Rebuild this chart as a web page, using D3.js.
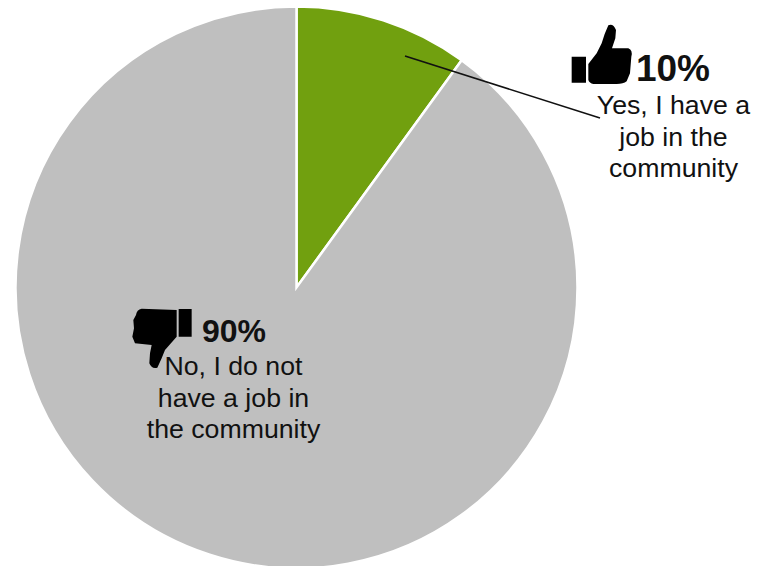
<!DOCTYPE html>
<html>
<head>
<meta charset="utf-8">
<script src="https://cdn.jsdelivr.net/npm/d3@7"></script>
<style>
html, body { margin: 0; padding: 0; background: #fff; }
svg { display: block; }
text { font-family: "Liberation Sans", Arial, sans-serif; fill: #111; text-anchor: middle; }
</style>
</head>
<body>
<div id="chart"></div>
<script>
// Answers to "do you have a job in the community?"
const categories = ["Yes", "No"];
const shares = [10, 90];
const sliceColors = ["#71a00f", "#bfbfbf"];
const percentLabels = ["10%", "90%"];
const captionLines = [
  ["Yes, I have a", "job in the", "community"],
  ["No, I do not", "have a job in", "the community"]
];

const width = 761, height = 566;
const cx = 296.5, cy = 287.5, radius = 281;

const svg = d3.select("#chart").append("svg")
  .attr("width", width).attr("height", height);

const pie = d3.pie().sort(null).value(d => d)(shares);
const arc = d3.arc().innerRadius(0).outerRadius(radius);

svg.append("g").attr("transform", `translate(${cx},${cy})`)
  .selectAll("path").data(pie).join("path")
  .attr("d", arc)
  .attr("fill", (d, i) => sliceColors[i])
  .attr("stroke", "#fff")
  .attr("stroke-width", 2.5)
  .attr("stroke-linejoin", "miter");

// Leader from the green slice to its caption
svg.append("line")
  .attr("x1", 405).attr("y1", 56).attr("x2", 600).attr("y2", 118)
  .attr("stroke", "#111").attr("stroke-width", 1.6);

// Thumb icons
const thumbUp = "M85,162 L110,130 L125,100 L134,72 L145,46 Q160,40 168,60 L166,85 L156,115 L205,115 Q219,120 214,140 L210,190 L200,214 Q190,222 170,222 L100,222 Q88,219 85,210 Z M35,140 H78 V218 H35 Z";
const thumbDown = "M170,45 L65,41 Q50,44 48,60 L40,75 L42,100 L37,125 L45,145 L95,150 L90,175 L88,205 Q95,223 112,218 L125,190 L135,165 L170,125 Z M176,42 H215 V125 H176 Z";

svg.append("path").attr("d", thumbUp).attr("fill", "#000")
  .attr("transform", "translate(560,10) scale(0.3333)");
svg.append("path").attr("d", thumbDown).attr("fill", "#000")
  .attr("transform", "translate(120,295) scale(0.3333)");

// Percent figures and captions
const percentPos = [[673, 81], [234, 342]];
const captionPos = [[673.5, 114], [233.5, 375]];

svg.selectAll("text.pct").data(percentLabels).join("text")
  .attr("class", "pct")
  .attr("x", (d, i) => percentPos[i][0])
  .attr("y", (d, i) => percentPos[i][1])
  .attr("font-weight", "bold")
  .attr("font-size", (d, i) => i === 0 ? 37 : 32)
  .text(d => d);

captionLines.forEach((lines, i) => {
  svg.selectAll(`text.cap${i}`).data(lines).join("text")
    .attr("class", `cap${i}`)
    .attr("x", captionPos[i][0])
    .attr("y", (d, j) => captionPos[i][1] + j * 31.5)
    .attr("font-size", 26.7)
    .text(d => d);
});
</script>
</body>
</html>
